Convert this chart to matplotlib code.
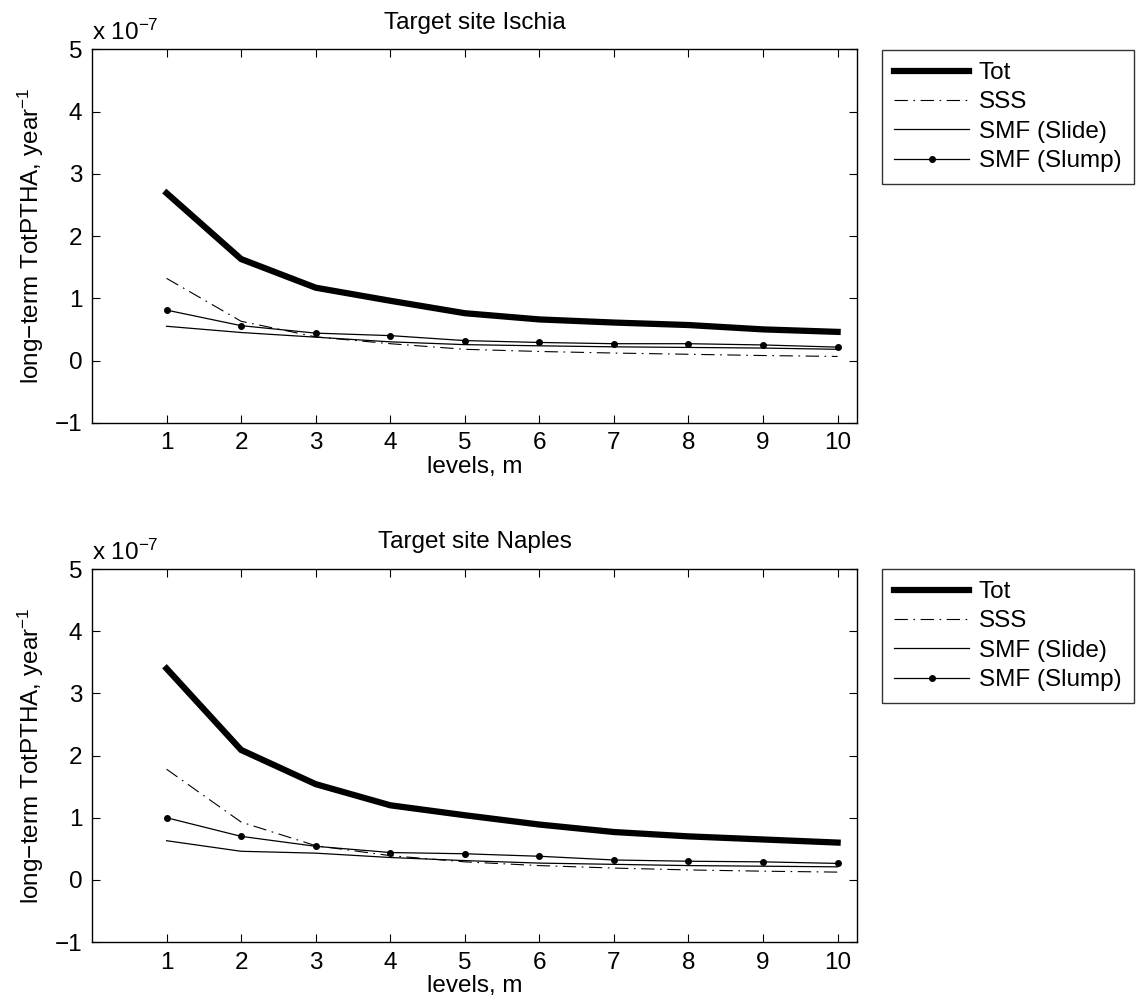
import matplotlib
matplotlib.use('Agg')
import matplotlib.pyplot as plt

plt.rcParams['font.family'] = ['Liberation Sans', 'DejaVu Sans']
plt.rcParams['mathtext.fontset'] = 'custom'
plt.rcParams['mathtext.rm'] = 'Liberation Sans'
plt.rcParams['mathtext.it'] = 'Liberation Sans:italic'

# levels (m)
levels = [1, 2, 3, 4, 5, 6, 7, 8, 9, 10]

# values in units of 1e-7 year^-1
ischia_tot = [2.69, 1.63, 1.17, 0.96, 0.76, 0.66, 0.61, 0.57, 0.50, 0.46]
ischia_sss = [1.32, 0.63, 0.38, 0.27, 0.18, 0.145, 0.12, 0.10, 0.08, 0.065]
ischia_slide = [0.55, 0.45, 0.375, 0.30, 0.255, 0.236, 0.22, 0.21, 0.20, 0.18]
ischia_slump = [0.81, 0.56, 0.44, 0.40, 0.32, 0.29, 0.27, 0.27, 0.25, 0.215]

naples_tot = [3.40, 2.09, 1.54, 1.20, 1.04, 0.89, 0.77, 0.70, 0.65, 0.60]
naples_sss = [1.78, 0.93, 0.55, 0.39, 0.29, 0.23, 0.19, 0.16, 0.14, 0.125]
naples_slide = [0.63, 0.46, 0.43, 0.36, 0.31, 0.27, 0.25, 0.23, 0.22, 0.21]
naples_slump = [1.00, 0.70, 0.54, 0.44, 0.42, 0.38, 0.32, 0.30, 0.29, 0.265]

labels = ['Tot', 'SSS', 'SMF (Slide)', 'SMF (Slump)']

FS = 17.5

fig = plt.figure(figsize=(11.36, 10.07), dpi=100)
ax_top = fig.add_axes([0.081, 0.5802, 0.6734, 0.3708])
ax_bot = fig.add_axes([0.081, 0.0645, 0.6734, 0.3704])

panels = [
    (ax_top, 'Ischia', ischia_tot, ischia_sss, ischia_slide, ischia_slump, 50),
    (ax_bot, 'Naples', naples_tot, naples_sss, naples_slide, naples_slump, 569),
]

for ax, site, tot, sss, slide, slump, leg_top in panels:
    ax.plot(levels, tot, color='black', lw=4.5, solid_joinstyle='miter',
            label=labels[0])
    ax.plot(levels, sss, color='black', lw=0.8,
            linestyle=(0, (12, 5, 1.5, 5)), label=labels[1])
    ax.plot(levels, slide, color='black', lw=0.9, label=labels[2])
    ax.plot(levels, slump, color='black', lw=0.9, marker='o', ms=4,
            label=labels[3])

    ax.set_xlim(0, 10.26)
    ax.set_ylim(-1, 5)
    ax.set_xticks(levels)
    ax.set_yticks([-1, 0, 1, 2, 3, 4, 5])
    ax.set_yticklabels(['\u22121', '0', '1', '2', '3', '4', '5'])
    ax.tick_params(direction='in', top=True, right=True, length=6,
                   width=0.8, labelsize=FS, pad=7)
    for sp in ax.spines.values():
        sp.set_linewidth(1.0)

    ax.set_xlabel('levels, m', fontsize=FS, labelpad=1)
    ax.set_ylabel('long\u2212term TotPTHA, year$^{-1}$', fontsize=FS,
                  labelpad=6)
    ax.set_title('Target site ' + site, fontsize=FS, pad=15)
    ax.text(0.0, 1.012, 'x 10$^{-7}$', transform=ax.transAxes,
            fontsize=FS, ha='left', va='bottom')

    leg = ax.legend(loc='upper left',
                    bbox_to_anchor=(881.7 / 1136, 1 - leg_top / 1007),
                    bbox_transform=fig.transFigure,
                    fontsize=FS, frameon=True, fancybox=False,
                    handlelength=3.1, handletextpad=0.4, labelspacing=0.3,
                    borderaxespad=0, borderpad=0.5)
    leg.get_frame().set_edgecolor('black')
    leg.get_frame().set_linewidth(1.0)

fig.savefig('out.png', dpi=100)
